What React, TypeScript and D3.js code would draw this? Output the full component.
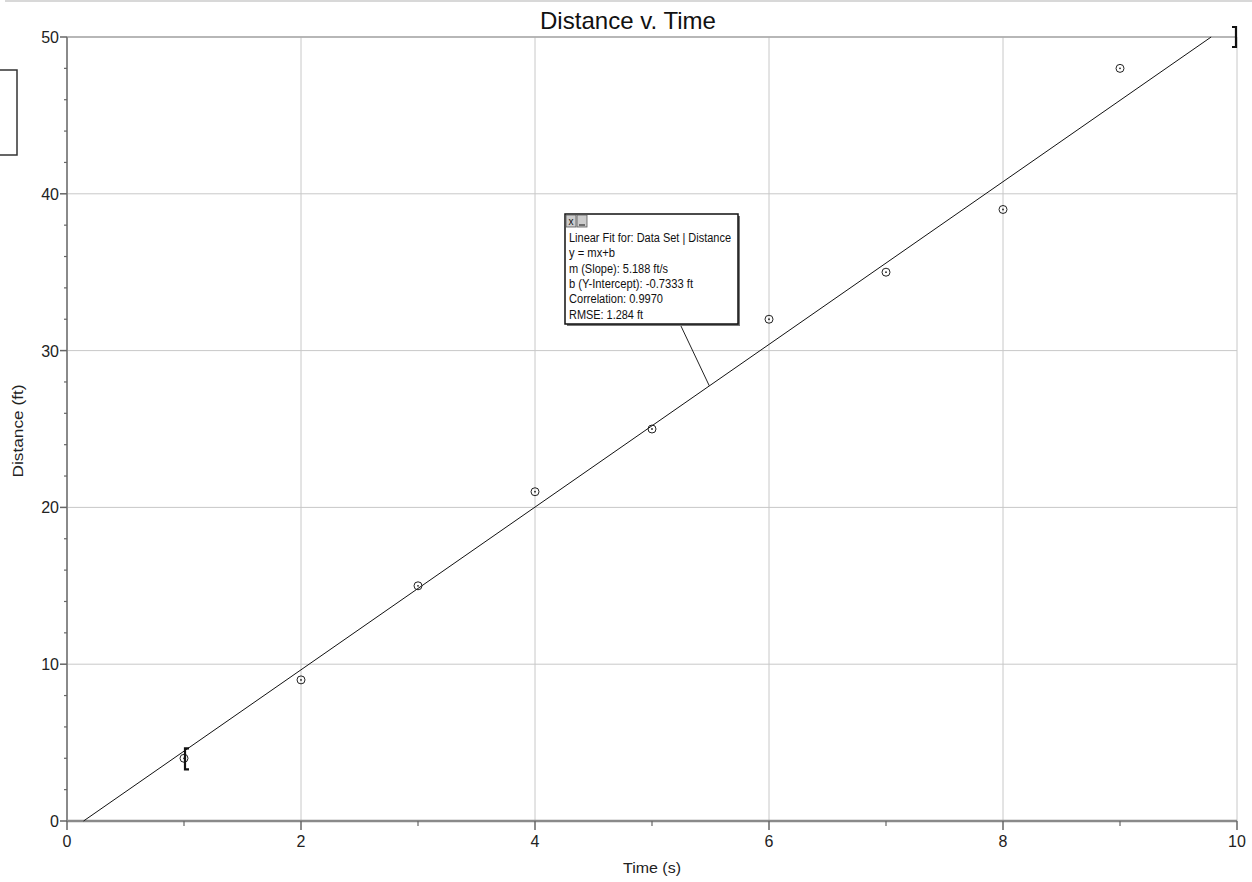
import React from "react";
import * as d3 from "d3";

const times = [1, 2, 3, 4, 5, 6, 7, 8, 9];
const distances = [4, 9, 15, 21, 25, 32, 35, 39, 48];
const xTicks = [0, 2, 4, 6, 8, 10];
const yTicks = [0, 10, 20, 30, 40, 50];
const slope = 5.188;
const intercept = -0.7333;
const fitLines = [
  "Linear Fit for: Data Set | Distance",
  "y = mx+b",
  "m (Slope): 5.188 ft/s",
  "b (Y-Intercept): -0.7333 ft",
  "Correlation: 0.9970",
  "RMSE: 1.284 ft",
];
const fitLineWidths = [162, 46, 99, 124, 94, 74];
const rangeStart = 1;
const rangeEnd = 10;
const calloutX = 5.49;

const W = 1252;
const H = 882;
const FONT = "'Liberation Sans', Arial, sans-serif";

export default function App() {
  const x = d3.scaleLinear().domain([0, 10]).range([67, 1237]);
  const y = d3.scaleLinear().domain([0, 50]).range([821, 37]);
  const xMinor = d3.range(1, 10, 2);
  const yMinor = d3.range(0, 51, 2).filter((v) => v % 10 !== 0);

  const fx0 = (0 - intercept) / slope;
  const fx1 = (50 - intercept) / slope;
  const line = d3.line<[number, number]>()
    .x((d) => x(d[0]))
    .y((d) => y(d[1]));
  const fitPath = line([
    [fx0, 0],
    [fx1, 50],
  ]);

  const boxX = 565, boxY = 214, boxW = 173, boxH = 110;

  return (
    <svg
      width={W}
      height={H}
      style={{ position: "absolute", left: 0, top: 0, background: "#fff" }}
      fontFamily={FONT}
    >
      <rect x={0} y={0} width={W} height={H} fill="#fff" />
      {/* top border line */}
      <line x1={5} x2={W} y1={1} y2={1} stroke="#d8d8d8" strokeWidth={2} />
      {/* left stub box */}
      <rect x={-4} y={70} width={21} height={85} fill="none" stroke="#333" strokeWidth={1.5} />

      {/* grid */}
      {xTicks.slice(1).map((t) => (
        <line key={"gx" + t} x1={x(t)} x2={x(t)} y1={y(50)} y2={y(0)} stroke="#c8c8c8" strokeWidth={1} />
      ))}
      {yTicks.slice(1).map((t) => (
        <line key={"gy" + t} x1={x(0)} x2={x(10)} y1={y(t)} y2={y(t)} stroke="#c8c8c8" strokeWidth={1} />
      ))}
      <line x1={x(0)} x2={x(10)} y1={y(50)} y2={y(50)} stroke="#a8a8a8" strokeWidth={1.5} />

      {/* axes */}
      <line x1={x(0)} x2={x(0)} y1={y(50)} y2={y(0) + 1} stroke="#8a8a8a" strokeWidth={2} />
      <line x1={x(0)} x2={x(10)} y1={y(0)} y2={y(0)} stroke="#8a8a8a" strokeWidth={2.5} />

      {/* x ticks */}
      {xTicks.map((t) => (
        <g key={"xt" + t}>
          <line x1={x(t)} x2={x(t)} y1={y(0)} y2={y(0) + 9} stroke="#666" strokeWidth={1.5} />
          <text x={x(t)} y={847} textAnchor="middle" fontSize={16} fill="#222">
            {t}
          </text>
        </g>
      ))}
      {xMinor.map((t) => (
        <line key={"xm" + t} x1={x(t)} x2={x(t)} y1={y(0)} y2={y(0) + 5} stroke="#666" strokeWidth={1.2} />
      ))}
      {/* y ticks */}
      {yTicks.map((t) => (
        <g key={"yt" + t}>
          <line x1={x(0) - 7} x2={x(0)} y1={y(t)} y2={y(t)} stroke="#666" strokeWidth={1.5} />
          <text x={x(0) - 8} y={y(t) + 6} textAnchor="end" fontSize={16} fill="#222">
            {t}
          </text>
        </g>
      ))}
      {yMinor.map((t) => (
        <line key={"ym" + t} x1={x(0) - 3} x2={x(0)} y1={y(t)} y2={y(t)} stroke="#666" strokeWidth={1.2} />
      ))}

      {/* title and axis labels */}
      <text x={628} y={29} textAnchor="middle" fontSize={24} fill="#111" textLength={176} lengthAdjust="spacingAndGlyphs">
        Distance v. Time
      </text>
      <text x={652} y={873} textAnchor="middle" fontSize={15} fill="#222" textLength={58} lengthAdjust="spacingAndGlyphs">
        Time (s)
      </text>
      <text
        transform={`translate(23, ${(y(0) + y(50)) / 2 + 2}) rotate(-90)`}
        textAnchor="middle"
        fontSize={15}
        fill="#222"
        textLength={93}
        lengthAdjust="spacingAndGlyphs"
      >
        Distance (ft)
      </text>

      {/* fit line */}
      <path d={fitPath || ""} stroke="#111" strokeWidth={1} fill="none" />

      {/* data points */}
      {times.map((t, i) => (
        <g key={"p" + i}>
          <circle cx={x(t)} cy={y(distances[i])} r={4} fill="none" stroke="#222" strokeWidth={1} />
          <circle cx={x(t)} cy={y(distances[i])} r={0.9} fill="#222" />
        </g>
      ))}

      {/* range brackets */}
      <path
        d={`M${x(rangeStart) + 5},${y(4) - 10} H${x(rangeStart) + 1} V${y(4) + 11} H${x(rangeStart) + 5}`}
        stroke="#111"
        strokeWidth={2.2}
        fill="none"
      />
      <path
        d={`M${x(rangeEnd) - 5},${27} H${x(rangeEnd) - 1} V${47} H${x(rangeEnd) - 5}`}
        stroke="#111"
        strokeWidth={2.2}
        fill="none"
      />

      {/* callout */}
      <line x1={680} y1={boxY + boxH} x2={x(calloutX)} y2={y(slope * calloutX + intercept)} stroke="#222" strokeWidth={1} />
      <rect x={boxX + 2} y={boxY + 2} width={boxW} height={boxH} fill="#777" />
      <rect x={boxX} y={boxY} width={boxW} height={boxH} fill="#fff" stroke="#111" strokeWidth={1.5} />
      <rect x={boxX + 1} y={boxY + 1} width={10} height={12} fill="#ccc" stroke="#555" strokeWidth={0.8} />
      <text x={boxX + 6} y={boxY + 11} textAnchor="middle" fontSize={10} fill="#111">x</text>
      <rect x={boxX + 12} y={boxY + 1} width={10} height={12} fill="#ccc" stroke="#555" strokeWidth={0.8} />
      <line x1={boxX + 14} x2={boxX + 20} y1={boxY + 11} y2={boxY + 11} stroke="#111" strokeWidth={1} />
      {fitLines.map((s, i) => (
        <text
          key={"f" + i}
          x={boxX + 4}
          y={boxY + 28 + i * 15.3}
          fontSize={12.5}
          fill="#111"
          textLength={fitLineWidths[i]}
          lengthAdjust="spacingAndGlyphs"
        >
          {s}
        </text>
      ))}
    </svg>
  );
}
